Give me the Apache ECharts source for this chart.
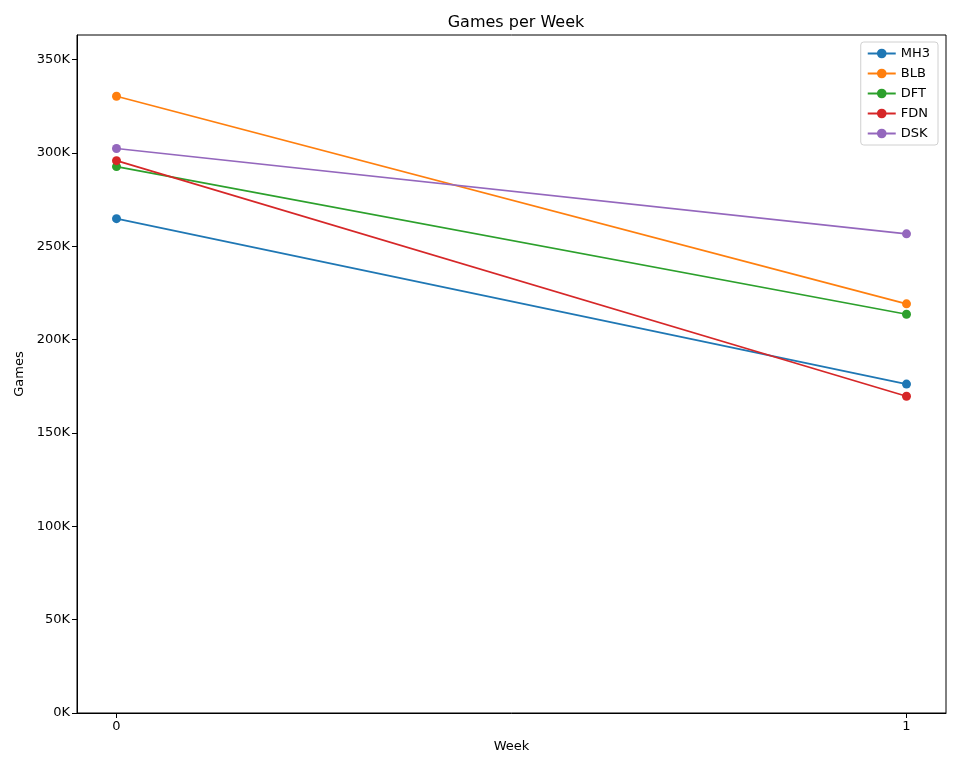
<!DOCTYPE html>
<html>
<head>
<meta charset="utf-8">
<script src="https://cdn.jsdelivr.net/npm/echarts@6/dist/echarts.min.js"></script>
<style>
  html, body { margin: 0; padding: 0; background: #fff; }
  #chart { width: 960px; height: 768px; }
</style>
</head>
<body>
<div id="chart"></div>
<script>
// 数据
const weeks = [0, 1]
const seriesNames = ['MH3', 'BLB', 'DFT', 'FDN', 'DSK']
const mh3 = [264800, 176200]
const blb = [330400, 219200]
const dft = [292700, 213600]
const fdn = [295900, 169700]
const dsk = [302400, 256700]
const yTicks = [0, 50000, 100000, 150000, 200000, 250000, 300000, 350000]
const colors = ['#1f77b4', '#ff7f0e', '#2ca02c', '#d62728', '#9467bd']

const values = [mh3, blb, dft, fdn, dsk]
const font = 'DejaVu Sans'

const chart = echarts.init(document.getElementById('chart'))
chart.setOption({
  animation: false,
  color: colors,
  textStyle: { fontFamily: font },
  title: {
    text: 'Games per Week',
    left: 511,
    top: 10,
    textAlign: 'center',
    textStyle: { fontFamily: font, fontSize: 16, fontWeight: 'normal', color: '#000' }
  },
  legend: {
    orient: 'vertical',
    right: 22,
    top: 42,
    padding: [5, 8, 5, 6],
    itemGap: 7,
    itemWidth: 28,
    itemHeight: 12,
    borderColor: '#d0d0d0',
    borderWidth: 1,
    borderRadius: 3,
    textStyle: { fontFamily: font, fontSize: 13, color: '#000' },
    data: seriesNames
  },
  grid: {
    left: 77, right: 14, top: 35, bottom: 55,
    show: true, borderColor: '#000', borderWidth: 1
  },
  xAxis: {
    type: 'value',
    min: -0.05,
    max: 1.05,
    name: 'Week',
    nameLocation: 'middle',
    nameGap: 27,
    nameTextStyle: { fontFamily: font, fontSize: 13, color: '#000' },
    axisLine: { show: true, onZero: false, lineStyle: { color: '#000' } },
    axisTick: { show: true, customValues: weeks, length: 5, lineStyle: { color: '#000' } },
    axisLabel: { customValues: weeks, fontFamily: font, fontSize: 13, color: '#000', margin: 7 },
    splitLine: { show: false }
  },
  yAxis: {
    type: 'value',
    min: 0,
    max: 363200,
    name: 'Games',
    nameLocation: 'middle',
    nameGap: 51,
    nameTextStyle: { fontFamily: font, fontSize: 13, color: '#000' },
    axisLine: { show: true, onZero: false, lineStyle: { color: '#000' } },
    axisTick: { show: true, customValues: yTicks, length: 5, lineStyle: { color: '#000' } },
    axisLabel: {
      customValues: yTicks,
      fontFamily: font, fontSize: 13, color: '#000', margin: 7,
      formatter: v => Math.round(v / 1000) + 'K'
    },
    splitLine: { show: false }
  },
  series: seriesNames.map((name, i) => ({
    name: name,
    type: 'line',
    data: weeks.map((w, j) => [w, values[i][j]]),
    symbol: 'circle',
    symbolSize: 9,
    lineStyle: { width: 1.7 },
    itemStyle: { color: colors[i] }
  }))
})
</script>
</body>
</html>
